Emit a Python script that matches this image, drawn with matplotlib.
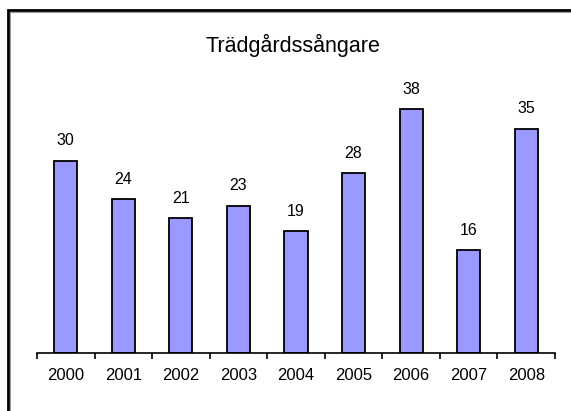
import matplotlib
matplotlib.use("Agg")
import matplotlib.pyplot as plt
from matplotlib.patches import Rectangle
import numpy as np

years = ["2000", "2001", "2002", "2003", "2004", "2005", "2006", "2007", "2008"]
counts = [30, 24, 21, 23, 19, 28, 38, 16, 35]
title = "Trädgårdssångare"

W, H = 571, 411
fig = plt.figure(figsize=(W / 100, H / 100), dpi=100)
plt.rcParams['font.family'] = ['Liberation Sans', 'DejaVu Sans']

# frame (left and top visible, runs off right/bottom)
fig.patches.append(Rectangle((8 / W, -0.1), 1.2, (H - 10) / H + 0.1,
                             transform=fig.transFigure, fill=False,
                             edgecolor='black', linewidth=2, zorder=0))
fig.patches.append(Rectangle((10 / W, -0.1), 1.2, (H - 12) / H + 0.1,
                             transform=fig.transFigure, fill=False,
                             edgecolor='#999999', linewidth=0.8, zorder=0))

ax_left, ax_right = 37, 555
ax_bottom = 353
ax_top = 64.5
ax = fig.add_axes([ax_left / W, (H - ax_bottom) / H,
                   (ax_right - ax_left) / W, (ax_bottom - ax_top) / H])

x = np.arange(len(years))
ax.bar(x, counts, width=0.4, color='#9999FF', edgecolor='black', linewidth=1.3)
for xi, v in zip(x, counts):
    ax.annotate(str(v), (xi, v), xytext=(0, 9), textcoords='offset points',
                ha='center', va='bottom', fontsize=11.5)

ax.set_xlim(-0.5, len(years) - 0.5)
ax.set_ylim(0, 45)
ax.set_yticks([])
for s in ['top', 'right', 'left']:
    ax.spines[s].set_visible(False)
ax.spines['bottom'].set_linewidth(1.2)
ax.set_xticks(np.arange(-0.5, len(years), 1.0))
ax.set_xticklabels([])
ax.tick_params(axis='x', direction='out', length=4, width=1.2)
ax.set_xticks(x, minor=True)
ax.set_xticklabels(years, minor=True, fontsize=12)
ax.tick_params(axis='x', which='minor', length=0, pad=11)
ax.patch.set_alpha(0)

fig.text(293 / W, 1 - 45 / H, title, ha='center', va='center', fontsize=15.5)

fig.savefig("out.png", dpi=100)
